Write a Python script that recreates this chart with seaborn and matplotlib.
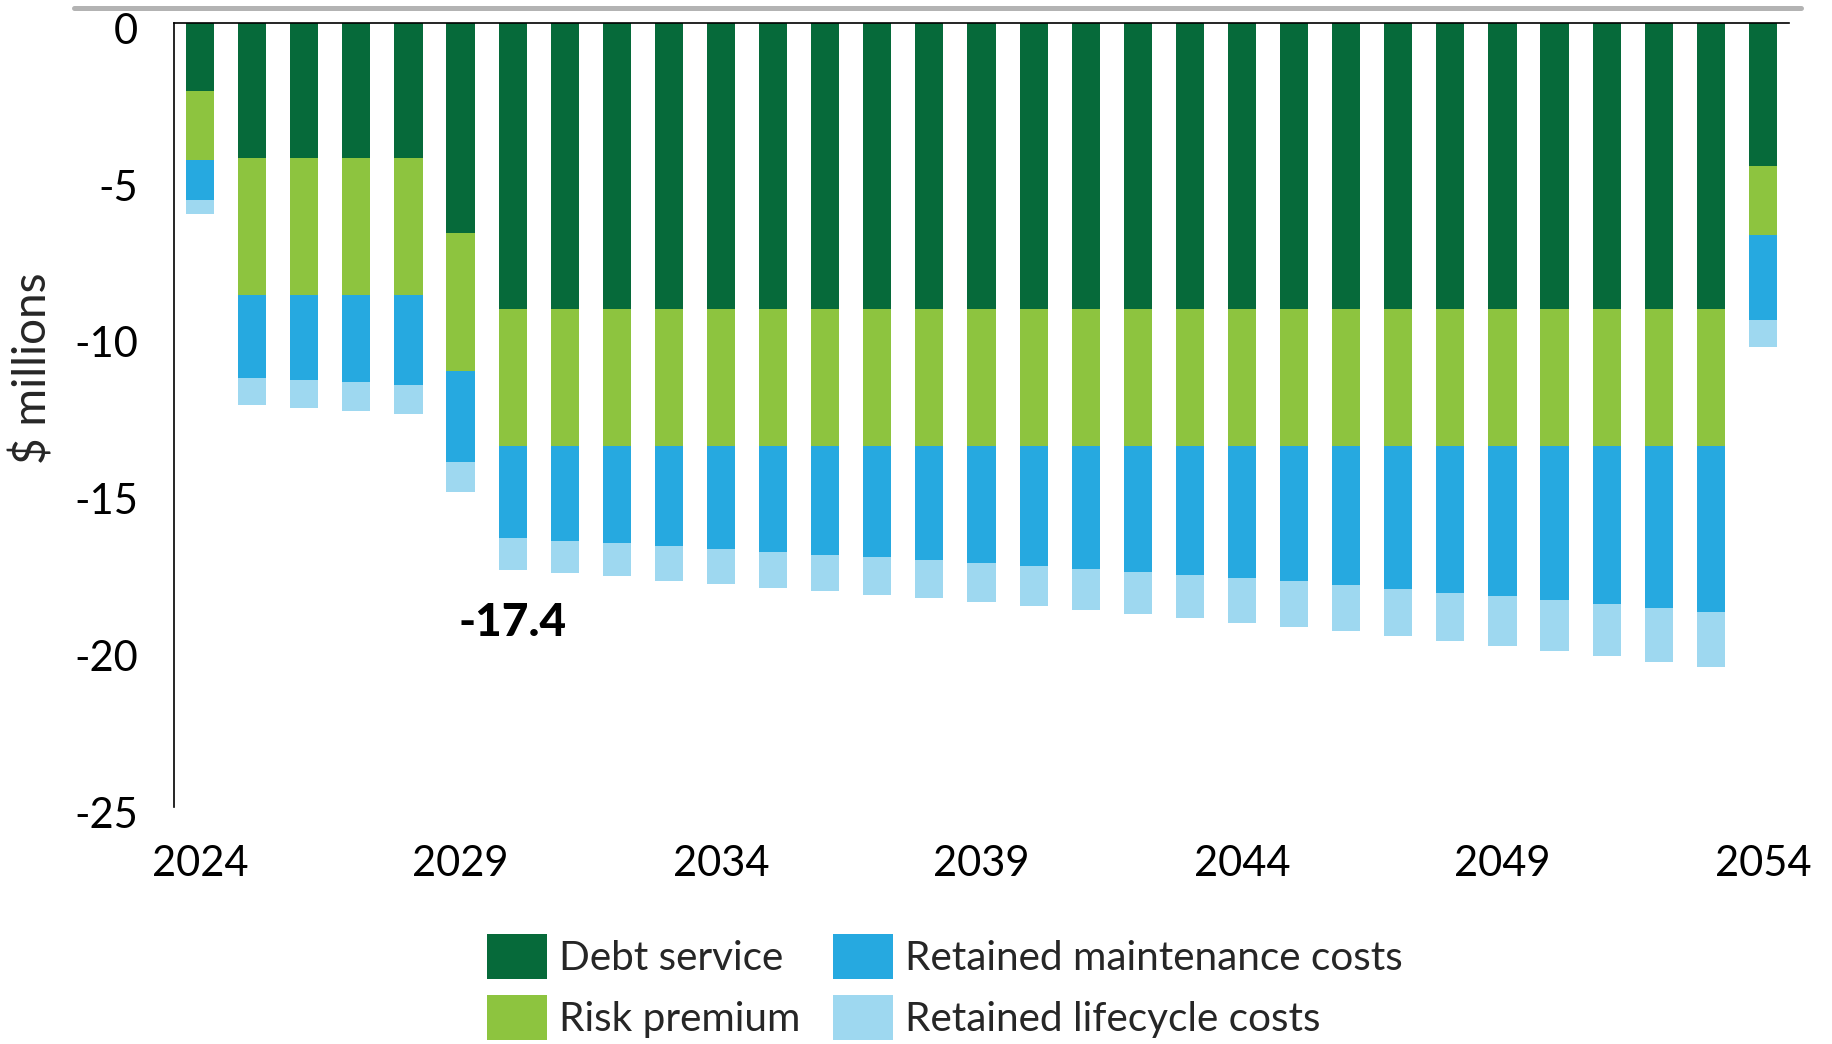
import matplotlib
matplotlib.use("Agg")
import numpy as np
import pandas as pd
import matplotlib.pyplot as plt
import seaborn as sns
from matplotlib.patches import Patch
from matplotlib.lines import Line2D
from matplotlib.transforms import ScaledTranslation

# Annual cost components, $ millions (shown as negative cash flows)
years = [str(y) for y in range(2024, 2055)]

debt_service = [2.15, 4.30, 4.30, 4.30, 4.30, 6.70,
                9.10, 9.10, 9.10, 9.10, 9.10, 9.10, 9.10, 9.10, 9.10, 9.10,
                9.10, 9.10, 9.10, 9.10, 9.10, 9.10, 9.10, 9.10, 9.10, 9.10,
                9.10, 9.10, 9.10, 9.10, 4.56]
risk_premium = [2.20, 4.38, 4.38, 4.38, 4.38, 4.38,
                4.38, 4.38, 4.38, 4.38, 4.38, 4.38, 4.38, 4.38, 4.38, 4.38,
                4.38, 4.38, 4.38, 4.38, 4.38, 4.38, 4.38, 4.38, 4.38, 4.38,
                4.38, 4.38, 4.38, 4.38, 2.18]
maintenance = [1.29, 2.64, 2.69, 2.77, 2.85, 2.92,
               2.94, 3.03, 3.10, 3.20, 3.30, 3.39, 3.47, 3.55, 3.65, 3.75,
               3.83, 3.93, 4.03, 4.13, 4.22, 4.31, 4.44, 4.55, 4.68, 4.78,
               4.91, 5.04, 5.17, 5.29, 2.71]
lifecycle = [0.43, 0.86, 0.90, 0.92, 0.93, 0.95,
             1.01, 1.02, 1.04, 1.10, 1.11, 1.13, 1.16, 1.20, 1.21, 1.23,
             1.28, 1.30, 1.33, 1.36, 1.42, 1.47, 1.48, 1.53, 1.55, 1.60,
             1.62, 1.67, 1.71, 1.76, 0.87]

series_names = ["Debt service", "Risk premium",
                "Retained maintenance costs", "Retained lifecycle costs"]
series_colors = ["#066A3A", "#8DC43F", "#26A9E0", "#9ED8F0"]

tick_years = ["2024", "2029", "2034", "2039", "2044", "2049", "2054"]
highlight_year = "2030"

sns.set_style("white")
plt.rcParams["font.family"] = ["Lato", "DejaVu Sans"]

df = pd.DataFrame({"year": years,
                   "Debt service": debt_service,
                   "Risk premium": risk_premium,
                   "Retained maintenance costs": maintenance,
                   "Retained lifecycle costs": lifecycle})

# Cumulative depth of each layer (costs hang below zero)
cum = -df[series_names].cumsum(axis=1)

W, H = 1833, 1044
fig = plt.figure(figsize=(W / 100, H / 100), dpi=100)
ax = fig.add_axes([174 / W, 1 - 807 / H, (1789 - 174) / W, (807 - 23.3) / H])

# Draw deepest layer first so the upper layers sit on top
for name, color in reversed(list(zip(series_names, series_colors))):
    sns.barplot(x=df["year"], y=cum[name], color=color, saturation=1,
                width=0.54, errorbar=None, linewidth=0, ax=ax)

ax.set_ylim(-25, 0)
ax.set_xlim(-0.5, len(years) - 0.5)
ax.set_yticks([0, -5, -10, -15, -20, -25])
ax.set_yticklabels(["0", "-5", "-10", "-15", "-20", "-25"])
ax.set_xticks([years.index(y) for y in tick_years])
ax.set_xticklabels(tick_years)
ax.tick_params(axis="both", length=0, labelsize=30, colors="black")
ax.tick_params(axis="y", pad=26)
ax.tick_params(axis="x", pad=27)
for lab in ax.get_yticklabels():
    lab.set_transform(lab.get_transform() +
                      ScaledTranslation(0, -0.05, fig.dpi_scale_trans))

ax.set_xlabel("")
ax.set_ylabel("$ millions", fontsize=33)
ax.yaxis.set_label_coords(-0.074, 0.56)

for side in ["bottom", "right"]:
    ax.spines[side].set_visible(False)
for side in ["top", "left"]:
    ax.spines[side].set_visible(True)
    ax.spines[side].set_color("black")
    ax.spines[side].set_linewidth(1.2)

# Total for the first full year of operations
i_hl = years.index(highlight_year)
total_hl = float(cum["Retained lifecycle costs"].iloc[i_hl])
ax.text(i_hl, total_hl - 1.7, f"{total_hl:.1f}", ha="center", va="center",
        fontsize=33, fontweight="black", color="black")

handles = [Patch(facecolor=c, edgecolor="none") for c in series_colors]
fig.legend(handles, series_names, loc="upper left",
           bbox_to_anchor=(487 / W, 1 - 934 / H), ncol=2, frameon=False,
           fontsize=29.2, handlelength=1.48, handleheight=1.33,
           handletextpad=0.3, columnspacing=0.8, labelspacing=0.39,
           borderpad=0, borderaxespad=0)

fig.add_artist(Line2D([74 / W, 1801 / W], [1 - 7.5 / H, 1 - 7.5 / H],
                      transform=fig.transFigure, color="#b3b3b3",
                      linewidth=3.6))

fig.savefig("out.png", dpi=100)
